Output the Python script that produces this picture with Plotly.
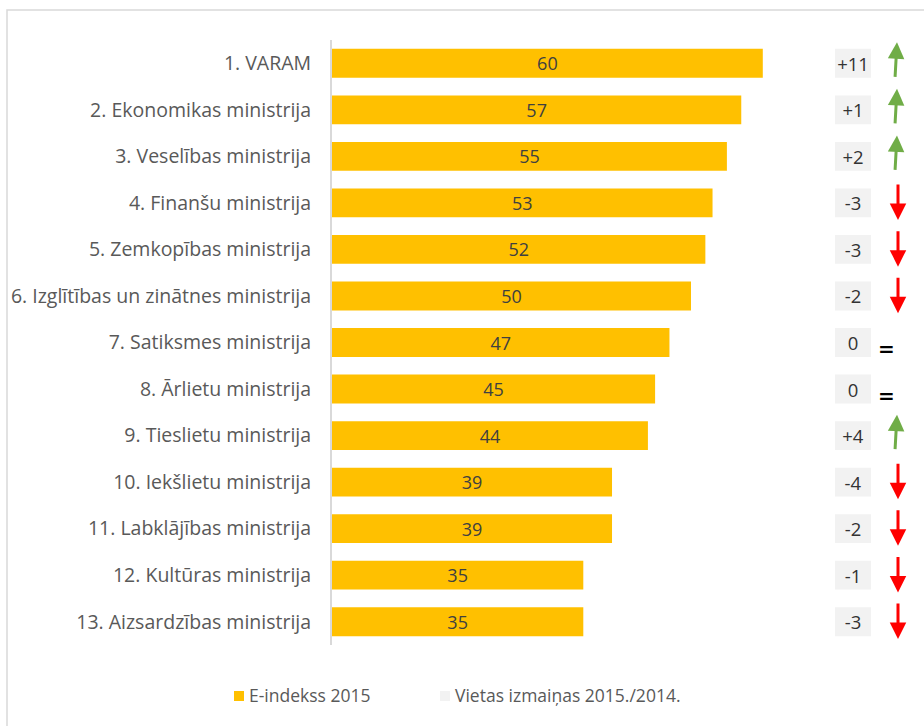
import plotly.graph_objects as go

categories = [
    "1. VARAM",
    "2. Ekonomikas ministrija",
    "3. Veselības ministrija",
    "4. Finanšu ministrija",
    "5. Zemkopības ministrija",
    "6. Izglītības un zinātnes ministrija",
    "7. Satiksmes ministrija",
    "8. Ārlietu ministrija",
    "9. Tieslietu ministrija",
    "10. Iekšlietu ministrija",
    "11. Labklājības ministrija",
    "12. Kultūras ministrija",
    "13. Aizsardzības ministrija",
]
e_index_2015 = [60, 57, 55, 53, 52, 50, 47, 45, 44, 39, 39, 35, 35]
rank_change = [11, 1, 2, -3, -3, -2, 0, 0, 4, -4, -2, -1, -3]
series_names = ["E-indekss 2015", "Vietas izmaiņas 2015./2014."]
series_colors = ["#FFC000", "#F2F2F2"]

W, H = 924, 726
FONT = "Open Sans"
pos = list(range(len(categories)))


def px_x(p):
    return p / W


def px_y(p):
    return 1 - p / H


def fmt(v):
    return f"+{v}" if v > 0 else str(v)


fig = go.Figure()

fig.add_trace(go.Bar(
    y=pos, x=e_index_2015, orientation="h",
    marker=dict(color=series_colors[0], line=dict(width=0)),
    width=0.62,
    text=[str(v) for v in e_index_2015],
    textposition="inside", insidetextanchor="middle", textangle=0,
    textfont=dict(family=FONT, size=18, color="#404040"),
    constraintext="none",
    name=series_names[0], showlegend=False,
    xaxis="x", yaxis="y", hoverinfo="skip",
))

fig.add_trace(go.Bar(
    y=pos, x=[1] * len(pos), orientation="h",
    marker=dict(color=series_colors[1], line=dict(width=0)),
    width=0.62,
    text=[fmt(v) for v in rank_change],
    textposition="inside", insidetextanchor="middle", textangle=0,
    textfont=dict(family=FONT, size=18.5, color="#333333"),
    constraintext="none",
    name=series_names[1], showlegend=False,
    xaxis="x2", yaxis="y", hoverinfo="skip",
))

annotations = []
for i, v in enumerate(rank_change):
    if v > 0:
        annotations.append(dict(
            x=px_x(897), xref="paper", y=i - 0.45, yref="y",
            ax=-2, ay=36, axref="pixel", ayref="pixel",
            showarrow=True, arrowhead=2, arrowwidth=3, arrowsize=1.1,
            arrowcolor="#70AD47", text="",
        ))
    elif v < 0:
        annotations.append(dict(
            x=px_x(898), xref="paper", y=i + 0.37, yref="y",
            ax=0, ay=-37, axref="pixel", ayref="pixel",
            showarrow=True, arrowhead=2, arrowwidth=3, arrowsize=1.1,
            arrowcolor="#FF0000", text="",
        ))
    else:
        annotations.append(dict(
            x=px_x(897), xref="paper", y=i + 0.14, yref="y",
            text="<b>=</b>", showarrow=False,
            font=dict(family="DejaVu Sans", size=20, color="#000000", weight="bold"),
        ))

# frame
shapes = [dict(
    type="rect", xref="paper", yref="paper",
    x0=px_x(7), x1=px_x(W + 20), y0=px_y(H + 20), y1=px_y(10),
    line=dict(color="#D9D9D9", width=1.5), fillcolor="rgba(0,0,0,0)",
    layer="below",
)]
# legend (square + label)
legend_x = [234, 440]
for name, col, lx in zip(series_names, series_colors, legend_x):
    shapes.append(dict(
        type="rect", xref="paper", yref="paper",
        x0=px_x(lx), x1=px_x(lx + 10), y0=px_y(701), y1=px_y(691),
        line=dict(width=0), fillcolor=col,
    ))
    annotations.append(dict(
        x=px_x(lx + 13), xref="paper", y=px_y(695), yref="paper",
        xanchor="left", yanchor="middle", showarrow=False, text=name,
        font=dict(family=FONT, size=17.5, color="#595959"),
    ))

x_left, x_right = 332, 800
scale = 7.18
fig.update_layout(
    width=W, height=H,
    margin=dict(l=0, r=0, t=0, b=0),
    paper_bgcolor="white", plot_bgcolor="white",
    barmode="overlay",
    showlegend=False,
    xaxis=dict(
        domain=[px_x(x_left), px_x(x_right)],
        range=[0, (x_right - x_left) / scale],
        visible=False, fixedrange=True,
    ),
    xaxis2=dict(
        domain=[px_x(835), px_x(871)], range=[0, 1],
        visible=False, anchor="y",
    ),
    yaxis=dict(
        domain=[px_y(645), px_y(40)],
        range=[len(pos) - 0.5, -0.5],
        tickmode="array", tickvals=pos, ticktext=categories,
        showgrid=False, zeroline=False,
        showline=True, linecolor="#D9D9D9", linewidth=2,
        ticks="", ticklabelstandoff=15,
        tickfont=dict(family=FONT, size=19.5, color="#595959"),
    ),
    annotations=annotations,
    shapes=shapes,
)

fig.write_html("out.html")
